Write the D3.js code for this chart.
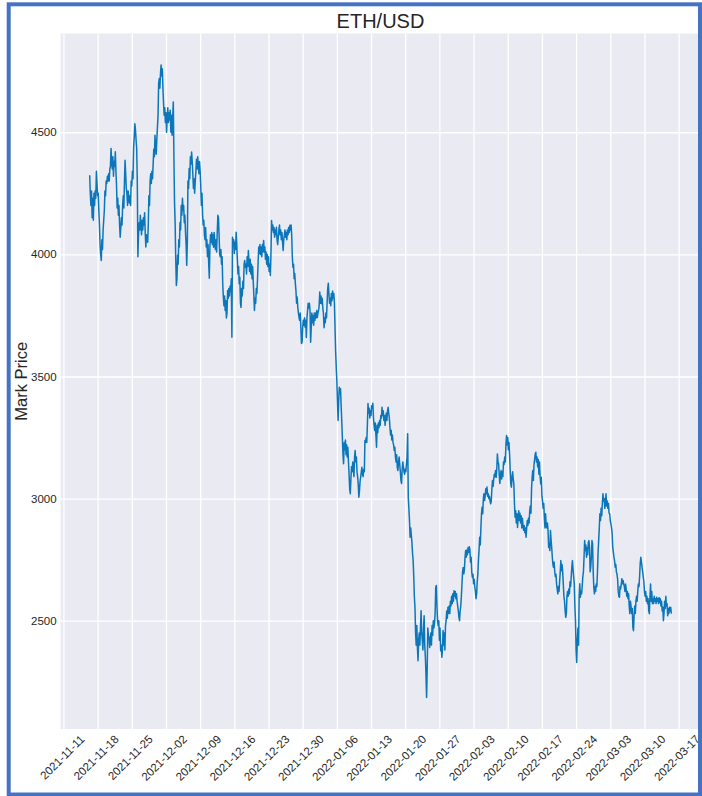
<!DOCTYPE html>
<html>
<head>
<meta charset="utf-8">
<script src="https://cdn.jsdelivr.net/npm/d3@7"></script>
<style>
  html, body { margin: 0; padding: 0; background: #ffffff; }
  svg { display: block; }
</style>
</head>
<body>
<svg id="chart" width="702" height="796"></svg>
<script>
// ---------------- data ----------------
const chartTitle = "ETH/USD";
const yAxisLabel = "Mark Price";
const startTime = "2021-11-16T09:00:00Z";   // first sample
const stepHours = 3;                          // sampling interval of the series
const yTickValues = [2500, 3000, 3500, 4000, 4500];
const xTickLabels = ["2021-11-11", "2021-11-18", "2021-11-25", "2021-12-02", "2021-12-09",
  "2021-12-16", "2021-12-23", "2021-12-30", "2022-01-06", "2022-01-13", "2022-01-20",
  "2022-01-27", "2022-02-03", "2022-02-10", "2022-02-17", "2022-02-24", "2022-03-03",
  "2022-03-10", "2022-03-17"];
const prices = [
  // Nov 16 09:00 -> Nov 17
  4324,4250,4200,4260,4150,4230,4140,4250,4200,4260,4230,4340,4290,
  // Nov 18 -> Nov 24
  4240,4250,4180,4120,4040,4000,3975,4060,4020,4100,4140,4180,4260,4240,4300,4290,4320,4300,4330,4300,
  4350,4360,4434,4380,4350,4400,4320,4380,4360,4420,4340,4280,4190,4230,4160,4200,4120,4070,4110,4150,
  4120,4200,4240,4190,4300,4385,4330,4270,4250,4200,4260,4230,4210,4240,4200,4300,
  // Nov 25 -> Dec 1
  4280,4340,4310,4440,4480,4535,4510,4470,4434,4300,3990,4080,4130,4100,4160,4120,4080,4140,4100,4150,
  4120,4170,4090,4030,4080,4060,4050,4120,4240,4200,4300,4330,4290,4340,4310,4370,4430,4400,4488,4440,
  4410,4470,4520,4570,4700,4720,4680,4740,4775,4730,4760,4680,4620,4570,4600,4540,
  // Dec 2 -> Dec 8
  4580,4500,4560,4600,4540,4580,4550,4590,4500,4570,4488,4560,4624,4400,4214,4130,3980,3873,3900,3996,
  3960,4060,4030,4131,4100,4200,4160,4230,4180,4200,4130,4160,4090,4040,3955,4050,4300,4270,4352,4310,
  4400,4370,4419,4380,4330,4270,4310,4250,4300,4340,4390,4350,4400,4360,4330,4380,
  // Dec 9 -> Dec 15
  4340,4280,4200,4250,4160,4120,4140,4080,4060,4110,4030,4060,3990,4040,3963,3902,4030,4080,4050,4090,
  4040,4080,4029,4090,4050,4020,4060,4010,4090,4160,4150,4080,4000,3990,4020,3960,3990,3880,3825,3790,
  3830,3770,3811,3740,3760,3852,3820,3860,3830,3870,3850,3900,3661,4070,4040,4060,
  // Dec 16 -> Dec 22
  4004,4050,4020,4091,4040,3975,3920,3950,3880,3906,3800,3783,3860,3830,3890,3860,3960,3975,3947,3960,
  3920,3990,3950,4016,3970,3930,3980,3920,3960,3900,3950,3890,3830,3770,3820,3800,3860,3840,3900,3970,
  4030,4004,4040,4000,4030,3990,4040,4010,4057,4010,4030,3980,4010,3960,4000,3950,
  // Dec 23 -> Dec 29
  3990,3930,3960,3914,4000,4139,4100,4120,4090,4110,4070,4100,4080,4111,4060,4040,4070,4100,4120,4080,
  4100,4060,4090,4050,4016,4060,4080,4100,4070,4090,4060,4100,4080,4110,4090,4119,4100,4120,4080,3990,
  3947,3960,3900,3922,3880,3850,3800,3825,3783,3760,3742,3730,3760,3700,3635,3640,
  // Dec 30 -> Jan 5
  3700,3730,3710,3740,3702,3730,3660,3740,3770,3800,3780,3800,3770,3640,3700,3760,3720,3750,3710,3760,
  3730,3760,3740,3770,3742,3760,3770,3790,3846,3800,3830,3798,3820,3780,3758,3700,3740,3720,3760,3740,
  3800,3860,3882,3840,3800,3820,3790,3840,3810,3850,3820,3840,3800,3700,3600,3537,
  // Jan 6 -> Jan 12
  3480,3400,3320,3400,3456,3430,3450,3380,3320,3251,3180,3143,3230,3200,3240,3180,3220,3170,3210,3150,
  3100,3040,3020,3080,3130,3110,3150,3120,3090,3170,3197,3150,3170,3110,3090,3060,3006,3030,3070,3087,
  3110,3128,3100,3090,3120,3110,3238,3230,3250,3230,3300,3389,3350,3370,3330,3360,
  // Jan 13 -> Jan 19
  3340,3380,3370,3390,3330,3300,3279,3310,3260,3210,3300,3270,3310,3290,3320,3300,3340,3330,3374,3340,
  3360,3320,3340,3300,3330,3350,3320,3360,3374,3350,3330,3290,3260,3280,3240,3260,3230,3220,3197,3210,
  3170,3150,3180,3128,3115,3150,3170,3140,3110,3074,3062,3120,3150,3130,3110,3100,
  // Jan 20 -> Jan 26
  3120,3110,3140,3170,3266,3006,2960,2910,2842,2880,2850,2820,2775,2746,2680,2596,2555,2447,2400,2480,
  2390,2336,2420,2450,2400,2470,2541,2450,2420,2380,2470,2520,2400,2350,2280,2186,2300,2470,2440,2430,
  2390,2420,2450,2400,2480,2440,2500,2470,2490,2529,2636,2644,2560,2500,2480,2500,
  // Jan 27 -> Feb 2
  2420,2470,2377,2400,2350,2380,2460,2400,2450,2380,2480,2500,2540,2510,2555,2530,2560,2529,2580,2560,
  2600,2570,2610,2580,2623,2600,2620,2590,2610,2580,2560,2540,2514,2500,2540,2560,2600,2650,2700,2718,
  2692,2710,2760,2787,2760,2790,2770,2800,2780,2803,2790,2740,2760,2700,2678,2690,
  // Feb 3 -> Feb 9
  2651,2670,2637,2620,2590,2610,2660,2690,2750,2790,2842,2810,2880,2940,2965,2938,3000,3020,2992,3010,
  3040,3020,3047,3010,3020,3000,3010,2990,2979,2990,3040,3074,3050,3080,3100,3090,3115,3087,3120,3183,
  3150,3143,3100,3062,3090,3115,3080,3110,3090,3150,3140,3170,3150,3220,3258,3220,
  // Feb 10 -> Feb 16
  3250,3200,3230,3180,3115,3060,3047,3090,3110,3080,3060,2979,2924,2950,2900,2938,2882,2920,2950,2910,
  2940,2900,2930,2880,2920,2890,2870,2890,2860,2880,2842,2880,2910,2890,2920,2900,2950,2970,2940,3040,
  3090,3115,3074,3140,3160,3183,3190,3150,3170,3130,3160,3100,3150,3090,3060,3087,
  // Feb 17 -> Feb 23
  3010,2990,2960,2980,2920,2880,2938,2890,2880,2900,2870,2800,2815,2787,2869,2830,2800,2760,2730,2719,
  2740,2700,2680,2690,2650,2630,2610,2640,2620,2660,2700,2746,2705,2730,2700,2650,2600,2580,2541,2514,
  2530,2600,2620,2600,2630,2610,2660,2640,2680,2720,2746,2710,2680,2650,2560,2500,
  // Feb 24 -> Mar 2
  2377,2329,2420,2470,2400,2600,2651,2596,2620,2610,2640,2680,2700,2760,2828,2787,2810,2760,2800,2770,
  2820,2828,2800,2700,2720,2760,2828,2815,2700,2637,2610,2640,2620,2650,2640,2700,2780,2830,2880,2938,
  2910,2960,2930,2980,3020,2990,3000,2960,2980,3020,2970,2990,2960,2980,2940,2938,
  // Mar 3 -> Mar 9
  2910,2897,2880,2860,2800,2780,2760,2746,2719,2730,2700,2690,2670,2620,2600,2596,2640,2630,2650,2672,
  2651,2665,2650,2640,2620,2650,2630,2600,2620,2590,2610,2560,2529,2580,2560,2530,2550,2473,2459,2520,
  2560,2530,2580,2600,2580,2620,2650,2640,2680,2733,2760,2740,2720,2700,2680,2660,
  // Mar 10 -> Mar 15
  2620,2600,2620,2580,2600,2570,2590,2540,2529,2600,2650,2580,2620,2570,2590,2570,2600,2580,2590,2570,
  2596,2580,2590,2570,2595,2575,2590,2560,2580,2540,2555,2500,2530,2580,2550,2600,2560,2570,2520,2550,
  2530,2555,2540,2555,2529
];

// ---------------- layout ----------------
const W = 702, H = 796;
const plot = { left: 60.6, right: 700.4, top: 33.5, bottom: 729 };
const fontFamily = "'Liberation Sans', Arial, Helvetica, sans-serif";
const textColor = "#262626";

const svg = d3.select("#chart");
svg.append("rect").attr("x", 0).attr("y", 0).attr("width", W).attr("height", H).attr("fill", "#ffffff");

const t0 = new Date(startTime);
const series = prices.map((p, i) => ({ t: new Date(t0.getTime() + i * stepHours * 3600e3), p }));

// matplotlib-like 5% margins
const tExt = d3.extent(series, d => d.t.getTime());
const tPad = (tExt[1] - tExt[0]) * 0.05;
const x = d3.scaleUtc().domain([new Date(tExt[0] - tPad), new Date(tExt[1] + tPad)])
  .range([plot.left, plot.right]);
const pExt = d3.extent(prices);
const pPad = (pExt[1] - pExt[0]) * 0.05;
const y = d3.scaleLinear().domain([pExt[0] - pPad, pExt[1] + pPad]).range([plot.bottom, plot.top]);

const parseDay = d3.utcParse("%Y-%m-%d");
const xTicks = xTickLabels.map(parseDay);

// plot background
svg.append("rect")
  .attr("x", plot.left).attr("y", plot.top)
  .attr("width", plot.right - plot.left).attr("height", plot.bottom - plot.top)
  .attr("fill", "#EAEAF2");

// grid via axes
const gx = svg.append("g")
  .attr("transform", `translate(0,${plot.bottom})`)
  .call(d3.axisBottom(x).tickValues(xTicks).tickSize(-(plot.bottom - plot.top)).tickFormat(""));
gx.select(".domain").remove();
gx.selectAll(".tick line").attr("stroke", "#ffffff").attr("stroke-width", 1.3);

const gy = svg.append("g")
  .attr("transform", `translate(${plot.left},0)`)
  .call(d3.axisLeft(y).tickValues(yTickValues).tickSize(-(plot.right - plot.left)).tickFormat(""));
gy.select(".domain").remove();
gy.selectAll(".tick line").attr("stroke", "#ffffff").attr("stroke-width", 1.3);

// line
const line = d3.line().x(d => x(d.t)).y(d => y(d.p));
svg.append("path")
  .datum(series)
  .attr("d", line)
  .attr("fill", "none")
  .attr("stroke", "#0B77BA")
  .attr("stroke-width", 1.5)
  .attr("stroke-linejoin", "round");

// y tick labels
svg.append("g").selectAll("text")
  .data(yTickValues).join("text")
  .attr("x", plot.left - 4)
  .attr("y", d => y(d))
  .attr("dy", "0.35em")
  .attr("text-anchor", "end")
  .attr("font-family", fontFamily)
  .attr("font-size", 11.5)
  .attr("fill", textColor)
  .text(d => d);

// x tick labels (rotated 45°)
svg.append("g").selectAll("text")
  .data(xTickLabels).join("text")
  .attr("transform", d => `translate(${x(parseDay(d)) + 19},${plot.bottom + 8}) rotate(-45)`)
  .attr("dy", "0.35em")
  .attr("text-anchor", "end")
  .attr("font-family", fontFamily)
  .attr("font-size", 11.5)
  .attr("fill", textColor)
  .text(d => d);

// y axis label
svg.append("text")
  .attr("transform", `translate(27,${(plot.top + plot.bottom) / 2}) rotate(-90)`)
  .attr("text-anchor", "middle")
  .attr("font-family", fontFamily)
  .attr("font-size", 16.5)
  .attr("fill", textColor)
  .text(yAxisLabel);

// title
svg.append("text")
  .attr("x", (plot.left + plot.right) / 2)
  .attr("y", 28.3)
  .attr("text-anchor", "middle")
  .attr("font-family", fontFamily)
  .attr("font-size", 20)
  .attr("fill", textColor)
  .text(chartTitle);

// outer blue frame
svg.append("rect")
  .attr("x", 8.7).attr("y", 4.3)
  .attr("width", 700 - 8.7).attr("height", 794.5 - 4.3)
  .attr("fill", "none")
  .attr("stroke", "#4472C4")
  .attr("stroke-width", 4);
</script>
</body>
</html>
